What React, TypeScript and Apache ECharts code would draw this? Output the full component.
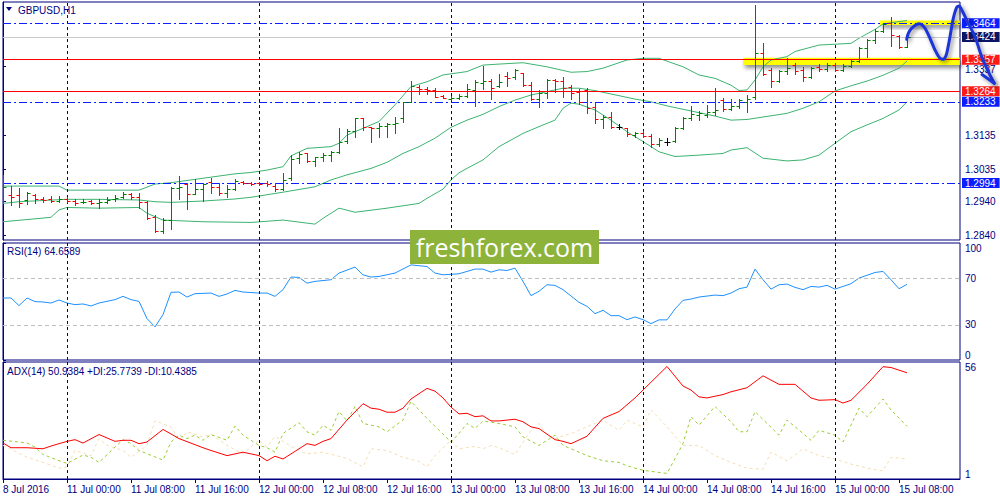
import React, { useEffect, useRef } from "react";
import * as echarts from "echarts";

// ---------- DATA ----------
const tickIndex = [0, 8, 16, 24, 32, 40, 48, 56, 64, 72, 80, 88, 96, 104, 112];
const tickLabels = [
  "8 Jul 2016", "11 Jul 00:00", "11 Jul 08:00", "11 Jul 16:00", "12 Jul 00:00",
  "12 Jul 08:00", "12 Jul 16:00", "13 Jul 00:00", "13 Jul 08:00", "13 Jul 16:00",
  "14 Jul 00:00", "14 Jul 08:00", "14 Jul 16:00", "15 Jul 00:00", "15 Jul 08:00",
];
const daySeparators = [8, 32, 56, 80, 104];

const opens = [
  1.2949, 1.2959, 1.2959, 1.2944, 1.2959, 1.2946, 1.2946, 1.2941, 1.2947, 1.2942,
  1.2937, 1.2941, 1.2934, 1.2939, 1.2946, 1.2954, 1.2961, 1.2952, 1.2939, 1.2895,
  1.2854, 1.2885, 1.2978, 1.2991, 1.2962, 1.2976, 1.2998, 1.2983, 1.2964, 1.2975,
  1.2998, 1.2993, 1.2993, 1.2994, 1.2985, 1.2976, 1.3008, 1.3067, 1.3081, 1.3059,
  1.3072, 1.3076, 1.3086, 1.3119, 1.3147, 1.3184, 1.3158, 1.3155, 1.3162, 1.3167,
  1.3184, 1.3233, 1.3278, 1.3270, 1.3268, 1.3250, 1.3242, 1.3245, 1.3251, 1.3268,
  1.3287, 1.3294, 1.3280, 1.3309, 1.3305, 1.3317, 1.3282, 1.3241, 1.3260, 1.3297,
  1.3294, 1.3276, 1.3263, 1.3268, 1.3217, 1.3181, 1.3189, 1.3160, 1.3155, 1.3135,
  1.3142, 1.3132, 1.3108, 1.3116, 1.3119, 1.3155, 1.3184, 1.3194, 1.3194, 1.3204,
  1.3238, 1.3212, 1.3221, 1.3233, 1.3248, 1.3376, 1.3327, 1.3295, 1.3325, 1.3341,
  1.3327, 1.3307, 1.3334, 1.3329, 1.3341, 1.3327, 1.3338, 1.3353, 1.3390, 1.3415,
  1.3442, 1.3464, 1.3428, 1.3395,
];
const highs = [
  1.3018, 1.2985, 1.2978, 1.2969, 1.2962, 1.2954, 1.2956, 1.2956, 1.2952, 1.2948,
  1.2948, 1.2944, 1.2947, 1.2952, 1.2959, 1.2969, 1.2966, 1.2966, 1.2941, 1.2900,
  1.2890, 1.2983, 1.3016, 1.2993, 1.3005, 1.2993, 1.3010, 1.2995, 1.2988, 1.3006,
  1.3001, 1.2998, 1.2997, 1.2999, 1.2993, 1.3023, 1.3076, 1.3086, 1.3083, 1.3072,
  1.3081, 1.3089, 1.3157, 1.3152, 1.3186, 1.3186, 1.3160, 1.3170, 1.3172, 1.3187,
  1.3233, 1.3294, 1.3283, 1.3276, 1.3273, 1.3253, 1.3250, 1.3255, 1.3284, 1.3297,
  1.3339, 1.3299, 1.3315, 1.3322, 1.3329, 1.3319, 1.3292, 1.3268, 1.3299, 1.3299,
  1.3305, 1.3282, 1.3270, 1.3273, 1.3229, 1.3194, 1.3202, 1.3168, 1.3157, 1.3145,
  1.3147, 1.3137, 1.3127, 1.3126, 1.3160, 1.3189, 1.3221, 1.3206, 1.3224, 1.3275,
  1.3245, 1.3240, 1.3240, 1.3253, 1.3518, 1.3405, 1.3332, 1.3327, 1.3361, 1.3346,
  1.3336, 1.3336, 1.3343, 1.3348, 1.3346, 1.3343, 1.3356, 1.3395, 1.3417, 1.3446,
  1.3466, 1.3482, 1.3430, 1.3432,
];
const lows = [
  1.2937, 1.2929, 1.2922, 1.2932, 1.2934, 1.2939, 1.2937, 1.2938, 1.2937, 1.2930,
  1.2934, 1.2932, 1.2921, 1.2936, 1.2941, 1.2949, 1.2947, 1.2920, 1.2887, 1.2851,
  1.2846, 1.2859, 1.2947, 1.2918, 1.2962, 1.2942, 1.2966, 1.2959, 1.2952, 1.2973,
  1.2991, 1.2987, 1.2987, 1.2985, 1.2971, 1.2972, 1.3003, 1.3052, 1.3057, 1.3045,
  1.3060, 1.3060, 1.3083, 1.3111, 1.3130, 1.3150, 1.3116, 1.3130, 1.3128, 1.3140,
  1.3175, 1.3231, 1.3255, 1.3256, 1.3246, 1.3243, 1.3238, 1.3240, 1.3248, 1.3222,
  1.3270, 1.3241, 1.3276, 1.3280, 1.3300, 1.3280, 1.3238, 1.3219, 1.3243, 1.3263,
  1.3246, 1.3241, 1.3226, 1.3199, 1.3170, 1.3155, 1.3155, 1.3152, 1.3132, 1.3130,
  1.3128, 1.3101, 1.3104, 1.3106, 1.3116, 1.3152, 1.3179, 1.3178, 1.3187, 1.3194,
  1.3207, 1.3209, 1.3216, 1.3204, 1.3241, 1.3312, 1.3276, 1.3292, 1.3315, 1.3315,
  1.3295, 1.3302, 1.3325, 1.3325, 1.3325, 1.3325, 1.3336, 1.3351, 1.3366, 1.3407,
  1.3437, 1.3397, 1.3390, 1.3393,
];
const closes = [
  1.2983, 1.2954, 1.2934, 1.2964, 1.2947, 1.2944, 1.2941, 1.2948, 1.2941, 1.2934,
  1.2939, 1.2936, 1.2939, 1.2944, 1.2951, 1.2961, 1.2952, 1.2939, 1.2890, 1.2854,
  1.2885, 1.2980, 1.2981, 1.2962, 1.2976, 1.2991, 1.2981, 1.2964, 1.2975, 1.3001,
  1.2995, 1.2990, 1.2991, 1.2990, 1.2976, 1.3003, 1.3064, 1.3079, 1.3059, 1.3070,
  1.3076, 1.3086, 1.3116, 1.3148, 1.3184, 1.3160, 1.3155, 1.3162, 1.3167, 1.3170,
  1.3231, 1.3280, 1.3270, 1.3268, 1.3248, 1.3245, 1.3245, 1.3250, 1.3270, 1.3292,
  1.3294, 1.3273, 1.3292, 1.3302, 1.3327, 1.3281, 1.3241, 1.3260, 1.3297, 1.3294,
  1.3273, 1.3258, 1.3233, 1.3214, 1.3181, 1.3189, 1.3160, 1.3160, 1.3138, 1.3142,
  1.3132, 1.3108, 1.3121, 1.3116, 1.3155, 1.3184, 1.3196, 1.3199, 1.3204, 1.3209,
  1.3212, 1.3221, 1.3238, 1.3241, 1.3376, 1.3315, 1.3295, 1.3325, 1.3332, 1.3325,
  1.3307, 1.3332, 1.3329, 1.3341, 1.3327, 1.3338, 1.3353, 1.3390, 1.3415, 1.3442,
  1.3462, 1.3430, 1.3395, 1.3424,
];

const bbUpper = [
  [0, 1.2985], [7, 1.2985], [8, 1.2973], [17, 1.2973], [19, 1.2991], [21, 1.2995], [25, 1.3008],
  [29, 1.3021], [31, 1.3025], [33, 1.3032], [35, 1.3042], [36, 1.3074], [38, 1.3096], [41, 1.3101],
  [42, 1.3111], [43, 1.3135], [47, 1.3175], [49, 1.3224], [51, 1.3278], [53, 1.3292], [55, 1.3312],
  [58, 1.3322], [60, 1.3341], [62, 1.3344], [65, 1.3348], [68, 1.3336], [71, 1.332], [73, 1.3322],
  [75, 1.3332], [78, 1.3356], [80, 1.3361], [82, 1.3361], [85, 1.3336], [87, 1.3312], [89, 1.3302],
  [91, 1.3282], [92, 1.3266], [93, 1.3268], [94, 1.3297], [95, 1.3336], [96, 1.3356], [98, 1.3366],
  [99, 1.3381], [102, 1.34], [106, 1.3405], [107, 1.342], [109, 1.3446], [110, 1.3462], [112, 1.3469],
  [113, 1.3472],
];
const bbMiddle = [
  [0, 1.2934], [2, 1.2939], [8, 1.2946], [12, 1.2946], [17, 1.2944], [19, 1.2939], [21, 1.2937],
  [25, 1.2941], [29, 1.2947], [31, 1.2952], [35, 1.2967], [39, 1.2983], [41, 1.3003], [43, 1.3018],
  [46, 1.3037], [48, 1.3055], [50, 1.3081], [52, 1.3101], [54, 1.3126], [56, 1.3158], [58, 1.3179],
  [60, 1.3196], [62, 1.3219], [64, 1.3238], [66, 1.3253], [68, 1.3263], [70, 1.3273], [72, 1.3273],
  [74, 1.3266], [76, 1.3256], [79, 1.3241], [81, 1.3233], [83, 1.3221], [86, 1.3206], [89, 1.3191],
  [91, 1.3179], [93, 1.3181], [98, 1.3199], [100, 1.3214], [102, 1.3233], [104, 1.3265], [106, 1.328],
  [108, 1.3294], [110, 1.3311], [112, 1.3332], [113, 1.3353],
];
const bbLower = [
  [0, 1.288], [6, 1.2893], [7, 1.2915], [8, 1.2922], [12, 1.292], [17, 1.2922], [18, 1.2905],
  [20, 1.2885], [25, 1.288], [31, 1.2878], [35, 1.2885], [39, 1.2873], [40, 1.289], [42, 1.292],
  [44, 1.2908], [48, 1.292], [52, 1.2934], [53, 1.2949], [55, 1.2976], [56, 1.3003], [57, 1.3024],
  [58, 1.3037], [60, 1.3062], [62, 1.3101], [65, 1.314], [67, 1.316], [69, 1.3179], [70, 1.3214],
  [71, 1.3229], [72, 1.3226], [74, 1.3209], [76, 1.3179], [78, 1.3145], [80, 1.3116], [82, 1.3086],
  [84, 1.3072], [87, 1.3076], [90, 1.3081], [91, 1.3091], [93, 1.3098], [95, 1.3067], [98, 1.3059],
  [100, 1.3062], [102, 1.3076], [104, 1.3111], [106, 1.3145], [108, 1.3165], [110, 1.3184],
  [112, 1.3209], [113, 1.3233],
];

const rsi = [
  [0, 53.0], [1, 53.0], [2, 46.5], [3, 53.0], [4, 49.9], [5, 49.6], [6, 48.7], [7, 51.3], [8, 48.7],
  [9, 47.3], [10, 47.9], [11, 46.2], [12, 48.7], [14, 51.6], [15, 54.4], [16, 51.6], [17, 50.1],
  [18, 35.4], [19, 28.3], [20, 38.8], [21, 57.8], [22, 58.1], [23, 53.8], [24, 56.7], [26, 57.2],
  [27, 54.4], [28, 56.4], [29, 59.5], [30, 58.1], [32, 57.2], [33, 57.2], [34, 54.4], [35, 60.1],
  [36, 70.9], [37, 70.6], [38, 65.7], [39, 67.2], [41, 68.6], [42, 74.3], [44, 79.4], [45, 72.8],
  [46, 70.9], [47, 71.4], [49, 74.3], [51, 81.3], [53, 79.9], [54, 74.3], [55, 72.8], [57, 73.7],
  [59, 77.7], [60, 77.7], [61, 75.1], [62, 77.1], [63, 76.5], [64, 78.5], [65, 67.2], [66, 55.0],
  [67, 58.7], [68, 64.3], [69, 63.8], [70, 60.1], [72, 49.3], [73, 45.9], [74, 39.6], [75, 42.5],
  [76, 37.9], [77, 37.9], [78, 34.5], [79, 36.8], [80, 34.5], [81, 31.1], [82, 34.3], [83, 34.3],
  [84, 43.6], [85, 51.0], [86, 52.1], [87, 53.8], [89, 55.5], [90, 55.0], [91, 57.2], [92, 60.9],
  [93, 62.3], [94, 77.7], [95, 68.6], [96, 60.6], [97, 64.3], [98, 64.9], [99, 62.1], [100, 60.1],
  [101, 62.9], [102, 62.3], [103, 63.8], [104, 60.6], [105, 62.9], [106, 65.2], [107, 70.0],
  [109, 74.8], [110, 75.7], [111, 68.6], [112, 60.9], [113, 64.66],
];

const adx = [
  [0, 17.9], [1, 15.7], [3, 15.7], [5, 15.2], [6, 16.5], [8, 18.7], [9, 19.5], [10, 17.9], [12, 21.9],
  [14, 18.7], [15, 19.2], [16, 19.2], [17, 17.6], [18, 18.4], [20, 24.3], [22, 20.0], [25, 15.7],
  [26, 14.4], [28, 12.0], [29, 12.8], [30, 13.6], [32, 12.0], [33, 9.6], [34, 11.7], [35, 10.4],
  [37, 15.2], [38, 17.6], [39, 16.8], [40, 18.7], [41, 20.0], [43, 28.7], [45, 36.4], [46, 34.3],
  [47, 33.8], [48, 32.4], [49, 32.4], [50, 34.3], [51, 38.6], [53, 43.6], [54, 42.3], [55, 39.1],
  [56, 34.8], [57, 31.6], [58, 31.9], [59, 30.3], [60, 30.7], [61, 28.3], [62, 28.3], [64, 29.1],
  [65, 27.9], [66, 25.5], [67, 24.7], [69, 19.5], [70, 18.7], [71, 17.6], [73, 21.1], [75, 29.5],
  [77, 32.7], [79, 39.1], [80, 42.8], [83, 53.9], [85, 44.7], [86, 42.8], [87, 39.6], [88, 39.1],
  [90, 40.7], [91, 42.0], [93, 43.9], [95, 49.5], [97, 45.5], [99, 45.5], [101, 39.1], [102, 38.0],
  [104, 38.3], [105, 36.7], [106, 38.0], [108, 45.5], [110, 53.8], [111, 53.4], [113, 50.94],
];
const plusDI = [
  [0, 19.2], [2, 18.4], [3, 17.9], [4, 16.0], [5, 12.5], [7, 9.6], [8, 8.3], [10, 12.3], [11, 11.2],
  [12, 8.8], [14, 16.0], [15, 19.5], [16, 17.6], [17, 14.4], [20, 9.9], [21, 18.4], [22, 21.6],
  [23, 20.0], [24, 21.6], [25, 19.2], [26, 21.9], [28, 19.2], [29, 25.9], [30, 21.6], [32, 16.8],
  [33, 15.7], [34, 13.6], [35, 22.4], [37, 27.5], [38, 23.2], [39, 21.6], [40, 26.3], [41, 23.9],
  [42, 32.7], [43, 28.3], [44, 35.1], [45, 27.1], [47, 25.5], [48, 23.2], [50, 28.7], [51, 37.5],
  [53, 29.5], [56, 18.4], [57, 22.4], [58, 27.1], [59, 24.8], [60, 28.3], [62, 27.1], [64, 25.5],
  [65, 20.8], [67, 16.8], [69, 21.6], [70, 16.8], [73, 12.0], [75, 9.6], [77, 8.8], [78, 7.2],
  [80, 5.1], [83, 3.6], [85, 17.6], [86, 30.3], [87, 26.3], [89, 35.1], [91, 27.9], [92, 23.2],
  [93, 23.2], [94, 32.7], [97, 21.6], [98, 28.7], [100, 22.4], [101, 19.2], [102, 23.9], [104, 21.6],
  [105, 18.4], [107, 34.3], [108, 30.3], [110, 38.6], [111, 33.5], [113, 25.77],
];
const minusDI = [
  [0, 16.8], [3, 11.2], [5, 8.8], [7, 6.1], [8, 6.7], [9, 14.4], [11, 12.0], [12, 20.0], [13, 16.8],
  [15, 14.4], [16, 11.2], [18, 16.8], [19, 28.4], [21, 25.5], [22, 19.2], [23, 23.2], [25, 20.8],
  [26, 22.0], [28, 16.8], [30, 12.8], [32, 19.2], [33, 16.0], [34, 21.1], [36, 16.3], [38, 12.8],
  [40, 13.6], [43, 10.7], [45, 6.7], [46, 15.2], [48, 14.4], [50, 11.2], [52, 9.3], [53, 6.7],
  [54, 12.0], [56, 19.2], [57, 15.2], [59, 16.3], [60, 15.2], [61, 16.8], [62, 15.7], [64, 12.5],
  [66, 23.9], [67, 27.1], [68, 21.6], [69, 20.0], [71, 22.4], [73, 25.5], [75, 28.7], [77, 23.9],
  [78, 28.7], [80, 25.5], [81, 33.5], [83, 25.5], [85, 16.8], [87, 16.8], [89, 12.0], [91, 8.8],
  [93, 6.1], [95, 5.6], [96, 13.6], [98, 9.6], [100, 15.2], [102, 12.0], [104, 10.4], [106, 8.0],
  [108, 6.1], [110, 4.8], [111, 11.2], [113, 10.44],
];

const priceTicks = [1.3337, 1.3135, 1.3035, 1.294, 1.284];
const levelPrices = [1.3464, 1.3424, 1.3357, 1.3264, 1.3233, 1.2994];
const rsiTicks = [0, 30, 70, 100];
const rsiLevels = [70, 30];
const adxTicks = [1, 56];
// yellow zones: [fromIndex, toIndex, upperPrice, lowerPrice]
const zones = [
  [109.6, 119.6, 1.3472, 1.3459],
  [92.5, 119.6, 1.3363, 1.3341],
];
// hand-drawn forecast arrow (page pixels)
const arrowPath = [
  [906.7, 39.3], [908.3, 33.3], [911.7, 28.3], [916.7, 24.3], [920.7, 24], [925, 28.3], [930, 38.3],
  [935, 50], [940, 58.3], [944, 59], [946.7, 53.3], [950, 36.7], [953.3, 18.3], [956.7, 7.3],
  [959.3, 6], [962.7, 11.7], [968.3, 23.3], [975, 36.7], [981.7, 56.7], [988.3, 71.7], [994.3, 83.3],
];
const arrowBarb = [[982, 74.5], [994.3, 83.3]];

// ---------- STYLE ----------
const FONT = "'Liberation Sans', Arial, sans-serif";
const FS = 10;
const NAVY = "#000080";
const GREEN = "#008000";
const RED = "#FF0000";
const BLUE = "#0a1eff";
const levelStyles = [
  { color: BLUE, type: [8, 3, 2, 3], box: BLUE },
  { color: "#C8C8C8", type: "solid", box: "#0c1464" },
  { color: RED, type: "solid", box: "#ff1a1a" },
  { color: RED, type: "solid", box: "#ff1a1a" },
  { color: BLUE, type: [8, 3, 2, 3], box: BLUE },
  { color: BLUE, type: [8, 3, 2, 3], box: BLUE },
];
const X_MAX = 957 / 8;

const sepLines = daySeparators.map((v) => ({
  xAxis: v,
  lineStyle: { color: NAVY, type: [3, 3], width: 1 },
  label: { show: false },
}));

function buildOption(): any {
  const hiddenX = (gi: number) => ({
    gridIndex: gi, type: "value", min: 0, max: X_MAX,
    axisLine: { show: false }, axisTick: { show: false }, axisLabel: { show: false }, splitLine: { show: false },
  });
  const labelBase = { color: NAVY, fontSize: FS, fontFamily: FONT };
  return {
    animation: false,
    backgroundColor: "#ffffff",
    grid: [
      { left: 3, top: 2, width: 957, height: 238, show: true, borderColor: NAVY, borderWidth: 1 },
      { left: 3, top: 243, width: 957, height: 117, show: true, borderColor: NAVY, borderWidth: 1 },
      { left: 3, top: 362, width: 957, height: 117, show: true, borderColor: NAVY, borderWidth: 1 },
    ],
    xAxis: [
      hiddenX(0),
      hiddenX(1),
      {
        gridIndex: 2, type: "value", min: 0, max: X_MAX,
        axisLine: { show: true, lineStyle: { color: NAVY } },
        axisTick: { show: true, customValues: tickIndex, length: 4, lineStyle: { color: NAVY } },
        axisLabel: {
          ...labelBase, customValues: tickIndex, align: "left", margin: 5,
          formatter: (v: number) => tickLabels[tickIndex.indexOf(Math.round(v))] ?? "",
        },
        splitLine: { show: false },
      },
    ],
    yAxis: [
      {
        gridIndex: 0, type: "value", position: "right", min: 1.28263, max: 1.35267,
        axisLine: { show: true, lineStyle: { color: NAVY } },
        axisTick: { show: true, customValues: priceTicks, length: 3, lineStyle: { color: NAVY } },
        axisLabel: {
          ...labelBase, customValues: priceTicks, margin: 5,
          formatter: (v: number) => (Math.abs(v - priceTicks[0]) < 1e-6 ? `{low|${v.toFixed(4)}}` : v.toFixed(4)),
          rich: { low: { color: NAVY, fontSize: FS, fontFamily: FONT, padding: [7, 0, 0, 0] } },
        },
        splitLine: { show: false },
      },
      {
        gridIndex: 1, type: "value", position: "right", min: 0, max: 100,
        axisLine: { show: true, lineStyle: { color: NAVY } },
        axisTick: { show: true, customValues: rsiTicks, length: 3, lineStyle: { color: NAVY } },
        axisLabel: {
          ...labelBase, customValues: rsiTicks, margin: 5,
          verticalAlignMinLabel: "bottom", verticalAlignMaxLabel: "top",
        },
        splitLine: { show: false },
      },
      {
        gridIndex: 2, type: "value", position: "right", min: 1, max: 56,
        axisLine: { show: true, lineStyle: { color: NAVY } },
        axisTick: { show: true, customValues: adxTicks, length: 3, lineStyle: { color: NAVY } },
        axisLabel: {
          ...labelBase, customValues: adxTicks, margin: 5,
          verticalAlignMinLabel: "bottom", verticalAlignMaxLabel: "top",
        },
        splitLine: { show: false },
      },
    ],
    series: [
      {
        name: "zones", type: "line", xAxisIndex: 0, yAxisIndex: 0, data: [], z: 1, silent: true,
        markArea: {
          silent: true,
          itemStyle: {
            color: "#FFFF00", shadowColor: "rgba(0,0,0,0.45)", shadowBlur: 4, shadowOffsetX: 2, shadowOffsetY: 3,
          },
          data: zones.map((z) => [{ xAxis: z[0], yAxis: z[2] }, { xAxis: z[1], yAxis: z[3] }]),
        },
      },
      {
        name: "BB upper", type: "line", xAxisIndex: 0, yAxisIndex: 0, data: bbUpper, showSymbol: false,
        lineStyle: { color: "#3CB371", width: 1 }, silent: true, z: 3,
        markLine: {
          silent: true, symbol: "none", animation: false, precision: 5,
          data: [
            ...sepLines,
            ...levelPrices.map((p, k) => ({
              yAxis: p,
              lineStyle: { color: levelStyles[k].color, type: levelStyles[k].type, width: 1 },
              label: {
                show: true, position: "end", distance: 2, formatter: p.toFixed(4),
                color: "#ffffff", backgroundColor: levelStyles[k].box, fontSize: FS, fontFamily: FONT,
                lineHeight: 10, padding: [0, 4, 0, 3],
              },
            })),
          ],
        },
      },
      {
        name: "BB middle", type: "line", xAxisIndex: 0, yAxisIndex: 0, data: bbMiddle, showSymbol: false,
        lineStyle: { color: "#3CB371", width: 1 }, silent: true, z: 3,
      },
      {
        name: "BB lower", type: "line", xAxisIndex: 0, yAxisIndex: 0, data: bbLower, showSymbol: false,
        lineStyle: { color: "#3CB371", width: 1 }, silent: true, z: 3,
      },
      {
        name: "GBPUSD", type: "custom", xAxisIndex: 0, yAxisIndex: 0, z: 5, clip: true,
        data: opens.map((o, i) => [i, o, highs[i], lows[i], closes[i]]),
        encode: { x: 0, y: [1, 2, 3, 4] },
        renderItem: (_params: any, api: any) => {
          const i = api.value(0);
          const o = api.value(1), h = api.value(2), l = api.value(3), c = api.value(4);
          const top = api.coord([i, h]);
          const bot = api.coord([i, l]);
          const yo = Math.round(api.coord([i, o])[1]) + 0.5;
          const yc = Math.round(api.coord([i, c])[1]) + 0.5;
          const x = Math.round(top[0]) + 0.5;
          const color = c > o ? GREEN : c < o ? RED : "#000000";
          const style = { stroke: color, lineWidth: 1 };
          return {
            type: "group",
            children: [
              { type: "line", shape: { x1: x, y1: Math.round(top[1]), x2: x, y2: Math.round(bot[1]) + 1 }, style },
              { type: "line", shape: { x1: x - 3, y1: yo, x2: x, y2: yo }, style },
              { type: "line", shape: { x1: x, y1: yc, x2: x + 3, y2: yc }, style },
            ],
          };
        },
      },
      {
        name: "RSI", type: "line", xAxisIndex: 1, yAxisIndex: 1, data: rsi, showSymbol: false,
        lineStyle: { color: "#1E90FF", width: 1 }, silent: true, z: 3,
        markLine: {
          silent: true, symbol: "none", animation: false, precision: 5,
          data: [
            ...sepLines,
            ...rsiLevels.map((v) => ({
              yAxis: v, lineStyle: { color: "#C0C0C0", type: [4, 3], width: 1 }, label: { show: false },
            })),
          ],
        },
      },
      {
        name: "-DI", type: "line", xAxisIndex: 2, yAxisIndex: 2, data: minusDI, showSymbol: false,
        lineStyle: { color: "#F5DEB3", width: 1, type: [3, 3] }, silent: true, z: 2,
      },
      {
        name: "+DI", type: "line", xAxisIndex: 2, yAxisIndex: 2, data: plusDI, showSymbol: false,
        lineStyle: { color: "#9ACD32", width: 1, type: [3, 3] }, silent: true, z: 3,
      },
      {
        name: "ADX", type: "line", xAxisIndex: 2, yAxisIndex: 2, data: adx, showSymbol: false,
        lineStyle: { color: "#FF0000", width: 1 }, silent: true, z: 4,
        markLine: { silent: true, symbol: "none", animation: false, precision: 5, data: sepLines },
      },
    ],
    graphic: [
      { type: "polygon", shape: { points: [[6, 7], [12, 7], [9, 11]] }, style: { fill: NAVY }, z: 50 },
      {
        type: "text", x: 18, y: 10, z: 50,
        style: { text: "GBPUSD,H1", fill: NAVY, font: `${FS}px ${FONT}`, verticalAlign: "middle" },
      },
      {
        type: "text", x: 7, y: 251, z: 50,
        style: { text: "RSI(14) 64.6589", fill: NAVY, font: `${FS}px ${FONT}`, verticalAlign: "middle" },
      },
      {
        type: "text", x: 7, y: 371, z: 50,
        style: { text: "ADX(14) 50.9384 +DI:25.7739 -DI:10.4385", fill: NAVY, font: `${FS}px ${FONT}`, verticalAlign: "middle" },
      },
      { type: "rect", shape: { x: 410, y: 230, width: 189, height: 34 }, style: { fill: "#8db33a" }, z: 100 },
      {
        type: "text", x: 504.5, y: 247, z: 101,
        style: {
          text: "freshforex.com", fill: "#ffffff", font: "25px 'Open Sans', sans-serif",
          align: "center", verticalAlign: "middle",
        },
      },
      {
        type: "polyline", z: 120, shape: { points: arrowPath, smooth: 0.3 },
        style: {
          stroke: "#1f35d6", lineWidth: 3, fill: null, lineCap: "round", lineJoin: "round",
          shadowColor: "rgba(0,0,0,0.45)", shadowBlur: 4, shadowOffsetX: 2, shadowOffsetY: 2,
        },
      },
      {
        type: "polyline", z: 120, shape: { points: arrowBarb },
        style: {
          stroke: "#1f35d6", lineWidth: 3, fill: null, lineCap: "round",
          shadowColor: "rgba(0,0,0,0.45)", shadowBlur: 4, shadowOffsetX: 2, shadowOffsetY: 2,
        },
      },
    ],
  };
}

export default function App() {
  const ref = useRef<HTMLDivElement>(null);
  useEffect(() => {
    if (!ref.current) return;
    const chart = echarts.init(ref.current, undefined, { renderer: "svg" });
    chart.setOption(buildOption());
    return () => chart.dispose();
  }, []);
  return (
    <div
      ref={ref}
      style={{ position: "fixed", left: 0, top: 0, width: 1000, height: 500, background: "#ffffff" }}
    />
  );
}
